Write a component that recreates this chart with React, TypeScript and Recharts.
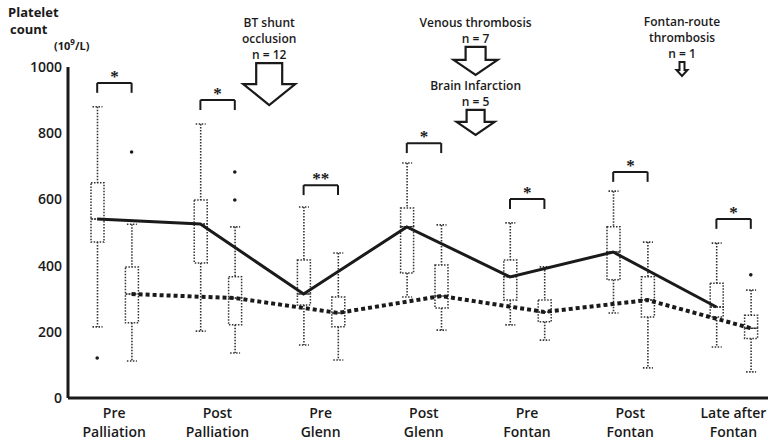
import React from 'react';
import {
  ComposedChart,
  Bar,
  Line,
  Scatter,
  XAxis,
  YAxis,
  ReferenceLine,
  ReferenceDot,
} from 'recharts';

const catLine1 = ['Pre', 'Post', 'Pre', 'Post', 'Pre', 'Post', 'Late after'];
const catLine2 = ['Palliation', 'Palliation', 'Glenn', 'Glenn', 'Fontan', 'Fontan', 'Fontan'];

// left box of each pair (solid line through medians)
const lowA = [215, 202, 160, 305, 221, 257, 154];
const q1A = [471, 408, 281, 378, 296, 357, 245];
const medA = [541, 526, 314, 517, 366, 441, 275];
const q3A = [650, 598, 417, 574, 417, 517, 347];
const highA = [880, 828, 577, 710, 529, 625, 468];

// right box of each pair (dotted line through medians)
const lowB = [112, 136, 115, 205, 175, 91, 79];
const q1B = [227, 221, 215, 272, 230, 245, 180];
const medB = [314, 302, 257, 308, 260, 296, 211];
const q3B = [396, 366, 305, 402, 296, 366, 250];
const highB = [525, 517, 438, 523, 396, 471, 326];

const outA = [[121], [], [], [], [], [], []];
const outB = [[743], [683, 598], [], [], [], [], [372]];

const bracketLevel = [952, 900, 643, 770, 601, 683, 541];
const stars = ['*', '*', '**', '*', '*', '*', '*'];

const annotSlot = ['1g', '3g', '3g', '5g'];
const annotTip = [885, 976, 795, 973];
const annotText = [
  ['BT shunt', 'occlusion', 'n = 12'],
  ['Venous thrombosis', 'n = 7'],
  ['Brain Infarction', 'n = 5'],
  ['Fontan-route', 'thrombosis', 'n = 1'],
];
const annotArrow = [
  { shaft: 26, head: 52, headH: 21, len: 42 },
  { shaft: 20, head: 44, headH: 15, len: 28 },
  { shaft: 18, head: 38, headH: 13, len: 25 },
  { shaft: 5, head: 11, headH: 6, len: 14 },
];

const yTicks = [0, 200, 400, 600, 800, 1000];

const rows: any[] = [];
catLine1.forEach((_, i) => {
  rows.push({
    slot: `${i}a`,
    base: lowA[i],
    w1: q1A[i] - lowA[i],
    b1: medA[i] - q1A[i],
    b2: q3A[i] - medA[i],
    w2: highA[i] - q3A[i],
    solid: medA[i],
    out1: outA[i][0],
    out2: outA[i][1],
  });
  rows.push({
    slot: `${i}b`,
    base: lowB[i],
    w1: q1B[i] - lowB[i],
    b1: medB[i] - q1B[i],
    b2: q3B[i] - medB[i],
    w2: highB[i] - q3B[i],
    dotted: medB[i],
    out1: outB[i][0],
    out2: outB[i][1],
  });
  if (i < catLine1.length - 1) rows.push({ slot: `${i}g` });
});

const INK = '#1a1a1a';
const FONT = '"Open Sans", sans-serif';

const LowWhisker = (p: any) => {
  const cx = p.x + p.width / 2;
  const yb = p.y + p.height;
  return (
    <g stroke="#333" strokeWidth={1.6} strokeDasharray="1.5 1.5" fill="none">
      <line x1={cx} x2={cx} y1={p.y} y2={yb} />
      <line x1={cx - 5} x2={cx + 5} y1={yb} y2={yb} />
    </g>
  );
};

const HighWhisker = (p: any) => {
  const cx = p.x + p.width / 2;
  return (
    <g stroke="#333" strokeWidth={1.6} strokeDasharray="1.5 1.5" fill="none">
      <line x1={cx} x2={cx} y1={p.y} y2={p.y + p.height} />
      <line x1={cx - 5} x2={cx + 5} y1={p.y} y2={p.y} />
    </g>
  );
};

const BoxPart = (p: any) => (
  <rect
    x={p.x}
    y={p.y}
    width={p.width}
    height={p.height}
    fill="none"
    stroke="#333"
    strokeWidth={1.5}
    strokeDasharray="1.5 1.5"
  />
);

const Nothing = () => <g />;

const OutDot = (p: any) =>
  Number.isFinite(p.cx) && Number.isFinite(p.cy) ? (
    <circle cx={p.cx} cy={p.cy} r={1.8} fill={INK} />
  ) : (
    <g />
  );

const CatTick = (p: any) => {
  const v: string = p.payload.value;
  if (!v.endsWith('a')) return <g />;
  const i = parseInt(v, 10);
  return (
    <text x={p.x + 17} y={p.y} textAnchor="middle" fontFamily={FONT} fontSize={14} fontWeight={600} fill={INK}>
      <tspan x={p.x + 17} dy={12}>{catLine1[i]}</tspan>
      <tspan x={p.x + 17} dy={19}>{catLine2[i]}</tspan>
    </text>
  );
};

const makeArrow = (k: number) => (p: any) => {
  const { cx, cy } = p;
  const a = annotArrow[k];
  const top = cy - a.len;
  const hb = cy - a.headH;
  const pts = [
    [cx - a.shaft / 2, top],
    [cx + a.shaft / 2, top],
    [cx + a.shaft / 2, hb],
    [cx + a.head / 2, hb],
    [cx, cy],
    [cx - a.head / 2, hb],
    [cx - a.shaft / 2, hb],
  ]
    .map((q) => q.join(','))
    .join(' ');
  const lines = annotText[k];
  return (
    <g>
      <polygon points={pts} fill="#fff" stroke={INK} strokeWidth={k === 3 ? 2 : 2.2} />
      {lines.map((t, j) => (
        <text
          key={j}
          x={cx}
          y={top - 4 - (lines.length - 1 - j) * 16}
          textAnchor="middle"
          fontFamily={FONT}
          fontSize={12}
          fontWeight={600}
          fill={INK}
        >
          {t}
        </text>
      ))}
    </g>
  );
};

const axisTitle = { position: 'absolute' as const, fontFamily: FONT, fontWeight: 700, color: INK, lineHeight: 1 };

export default function App() {
  return (
    <div style={{ position: 'absolute', left: 0, top: 0, width: 771, height: 448, background: '#fff' }}>
      <div style={{ ...axisTitle, left: 8, top: 6, fontSize: 13 }}>Platelet</div>
      <div style={{ ...axisTitle, left: 10, top: 23, fontSize: 13 }}>count</div>
      <div style={{ ...axisTitle, left: 54, top: 38, fontSize: 11 }}>
        (10<sup style={{ fontSize: 8 }}>9</sup>/L)
      </div>
      <ComposedChart width={771} height={448} data={rows} margin={{ top: 67, right: 3, left: 0, bottom: 0 }}>
        <XAxis
          dataKey="slot"
          interval={0}
          height={50}
          padding={{ left: 12, right: 0 }}
          tickLine={false}
          tick={<CatTick />}
          axisLine={{ stroke: INK, strokeWidth: 3 }}
        />
        <YAxis
          domain={[0, 1000]}
          ticks={yTicks}
          width={68}
          tickLine={false}
          tickSize={0}
          tickMargin={6}
          axisLine={{ stroke: INK, strokeWidth: 3 }}
          tick={{ fontFamily: FONT, fontSize: 14, fontWeight: 600, fill: INK }}
        />
        <Bar dataKey="base" stackId="s" barSize={13} shape={<Nothing />} isAnimationActive={false} />
        <Bar dataKey="w1" stackId="s" barSize={13} shape={<LowWhisker />} isAnimationActive={false} />
        <Bar dataKey="b1" stackId="s" barSize={13} shape={<BoxPart />} isAnimationActive={false} />
        <Bar dataKey="b2" stackId="s" barSize={13} shape={<BoxPart />} isAnimationActive={false} />
        <Bar dataKey="w2" stackId="s" barSize={13} shape={<HighWhisker />} isAnimationActive={false} />
        <Scatter dataKey="out1" fill={INK} shape={<OutDot />} isAnimationActive={false} />
        <Scatter dataKey="out2" fill={INK} shape={<OutDot />} isAnimationActive={false} />
        <Line
          dataKey="solid"
          type="linear"
          connectNulls
          stroke={INK}
          strokeWidth={3}
          dot={false}
          isAnimationActive={false}
        />
        <Line
          dataKey="dotted"
          type="linear"
          connectNulls
          stroke={INK}
          strokeWidth={4}
          strokeDasharray="4 3"
          dot={false}
          isAnimationActive={false}
        />
        {bracketLevel.map((lv, i) => (
          <ReferenceLine
            key={`bh${i}`}
            segment={[
              { x: `${i}a`, y: lv },
              { x: `${i}b`, y: lv },
            ]}
            stroke={INK}
            strokeWidth={2}
            label={{ value: stars[i], position: 'top', fill: INK, fontSize: 17, fontWeight: 700, offset: 1 }}
          />
        ))}
        {bracketLevel.map((lv, i) => (
          <ReferenceLine
            key={`bl${i}`}
            segment={[
              { x: `${i}a`, y: lv },
              { x: `${i}a`, y: lv - 30 },
            ]}
            stroke={INK}
            strokeWidth={2}
          />
        ))}
        {bracketLevel.map((lv, i) => (
          <ReferenceLine
            key={`br${i}`}
            segment={[
              { x: `${i}b`, y: lv },
              { x: `${i}b`, y: lv - 30 },
            ]}
            stroke={INK}
            strokeWidth={2}
          />
        ))}
        {annotSlot.map((s, k) => (
          <ReferenceDot
            key={`an${k}`}
            x={s}
            y={annotTip[k]}
            r={0}
            ifOverflow="visible"
            shape={makeArrow(k)}
          />
        ))}
      </ComposedChart>
    </div>
  );
}
